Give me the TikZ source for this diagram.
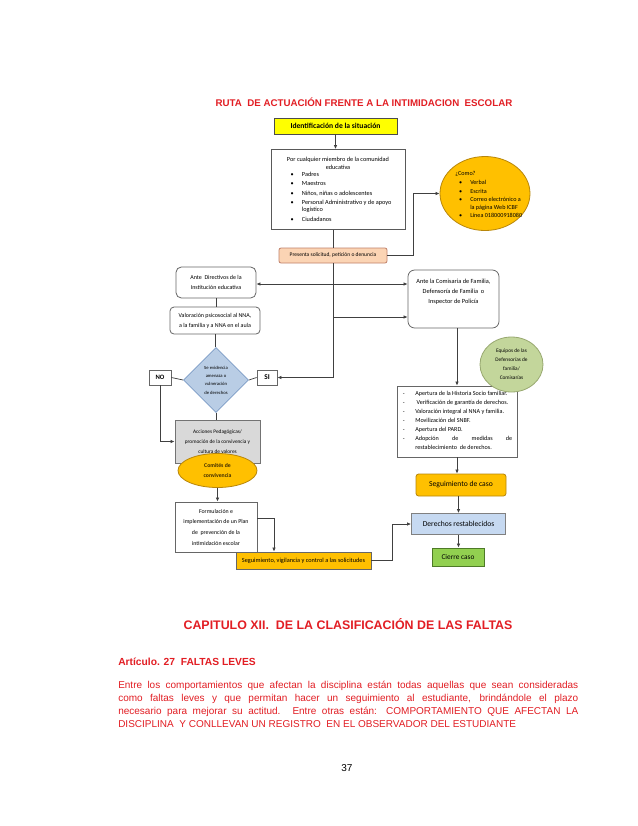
\documentclass[tikz,border=0pt]{standalone}
\usepackage{fontspec}
\setmainfont{Liberation Sans}
\newfontfamily\carl{Carlito}
\usetikzlibrary{shapes.geometric,arrows.meta}
\newlength\pxu
\setlength\pxu{0.75pt}
\definecolor{redtxt}{RGB}{226,30,36}
\definecolor{yel}{HTML}{FFFF00}
\definecolor{gold}{HTML}{FFC000}
\definecolor{goldline}{HTML}{B8860B}
\definecolor{peach}{HTML}{FBD4B4}
\definecolor{peachline}{HTML}{C0806A}
\definecolor{ltblue}{HTML}{C6D9F1}
\definecolor{diablue}{HTML}{B9CDE5}
\definecolor{blueline}{HTML}{7B9BC6}
\definecolor{ltgray}{HTML}{D9D9D9}
\definecolor{olive}{HTML}{C3D69B}
\definecolor{oliveline}{HTML}{98A870}
\definecolor{grn}{HTML}{92D050}
\definecolor{grnline}{HTML}{4E7A27}
\definecolor{brn}{HTML}{3F2C00}
\begin{document}
\begin{tikzpicture}[x=0.75pt,y=-0.75pt,
  ln/.style={draw=black!75, line width=0.55pt},
  arr/.style={ln, -{Latex[length=3pt,width=2.6pt]}},
  dbl/.style={ln, {Latex[length=3pt,width=2.6pt]}-{Latex[length=3pt,width=2.6pt]}},
  bx/.style={draw=black!60, line width=0.6pt, inner sep=0pt, align=center, fill=white,
     font=\carl\fontsize{4.5}{8}\selectfont},
  txt/.style={inner sep=0pt, anchor=base west, font=\carl\fontsize{4.7}{6}\selectfont},
  stxt/.style={inner sep=0pt, anchor=base west, font=\carl\fontsize{4.6}{5}\selectfont},
  ptxt/.style={inner sep=0pt, anchor=base west, text=redtxt, font=\fontsize{7.5}{9.75}\selectfont}
]
\path[use as bounding box, fill=white] (0,0) rectangle (638,826);

% title
\node[inner sep=0pt, text=redtxt, font=\bfseries\fontsize{7.3}{9}\selectfont] (title) at (364,102)
  {RUTA\ \ DE ACTUACIÓN FRENTE A LA INTIMIDACION\ \ ESCOLAR};

% top boxes
\node[bx, fill=yel, draw=black!70, minimum width=123\pxu, minimum height=16\pxu,
  font=\carl\bfseries\fontsize{5.7}{7}\selectfont] (ident) at (335.5,126) {Identificación de la situación};

\node[bx, draw=black!65, minimum width=134\pxu, minimum height=80\pxu] (miembro) at (338,189.5) {};
\node[inner sep=0pt, align=center, font=\carl\fontsize{4.7}{5.8}\selectfont] (mhead) at (338,163)
  {Por cualquier miembro de la comunidad\\educativa};
\node[txt] (mi1) at (290.3,176.4) {\makebox[11.4\pxu][l]{•}Padres};
\node[txt] (mi2) at (290.3,185.4) {\makebox[11.4\pxu][l]{•}Maestros};
\node[txt] (mi3) at (290.3,195.0) {\makebox[11.4\pxu][l]{•}Niños, niñas o adolescentes};
\node[txt] (mi4) at (290.3,204.4) {\makebox[11.4\pxu][l]{•}Personal Administrativo y de apoyo};
\node[txt] (mi4b) at (290.3,211.2) {\hspace*{11.4\pxu}logístico};
\node[txt] (mi5) at (290.3,221.0) {\makebox[11.4\pxu][l]{•}Ciudadanos};

% como ellipse
\node[ellipse, draw=goldline, fill=gold, line width=0.6pt, minimum width=90\pxu, minimum height=74\pxu, inner sep=0pt] (como) at (485,193.5) {};
\node[stxt] (c0) at (455,175.6) {¿Como?};
\node[stxt] (c1) at (458.8,184.9) {\makebox[11.2\pxu][l]{•}Verbal};
\node[stxt] (c2) at (458.8,193.3) {\makebox[11.2\pxu][l]{•}Escrita};
\node[stxt] (c3) at (458.8,201.6) {\makebox[11.2\pxu][l]{•}Correo electrónico a};
\node[stxt] (c3b) at (458.8,209.1) {\hspace*{11.2\pxu}la página Web ICBF};
\node[stxt] (c4) at (458.8,217.6) {\makebox[11.2\pxu][l]{•}Línea 018000918080};

% presenta
\node[bx, fill=peach, draw=peachline, rounded corners=1.5pt, minimum width=108\pxu, minimum height=15\pxu,
  font=\carl\fontsize{4.15}{5}\selectfont] (pres) at (333,255.5) {Presenta solicitud, petición o denuncia};

% left column
\node[bx, rounded corners=4pt, minimum width=80\pxu, minimum height=31\pxu] (direc) at (216,282.5)
  {Ante\ \ Directivos de la\\Institución educativa};
\node[bx, rounded corners=3pt, minimum width=90\pxu, minimum height=27\pxu, font=\carl\fontsize{4.5}{7.5}\selectfont] (valor) at (215,320.5)
  {Valoración psicosocial al NNA,\\a la familia y a NNA en el aula};
\node[diamond, draw=blueline, fill=diablue, line width=0.6pt, minimum width=65\pxu, minimum height=65\pxu, inner sep=0pt,
  align=center, font=\carl\fontsize{3.5}{6.2}\selectfont] (dia) at (216,380)
  {Se evidencia\\amenaza o\\vulneración\\de derechos};
\node[bx, minimum width=22\pxu, minimum height=15\pxu, font=\carl\bfseries\fontsize{5}{6}\selectfont] (no) at (160,377.5) {NO};
\node[bx, minimum width=20\pxu, minimum height=15\pxu, font=\carl\bfseries\fontsize{5.5}{6}\selectfont] (si) at (267,377.5) {SI};
\node[bx, fill=ltgray, draw=black!55, minimum width=85\pxu, minimum height=43\pxu, font=\carl\fontsize{4}{7.6}\selectfont] (acc) at (217.5,441.5)
  {Acciones Pedagógicas/\\promoción de la convivencia y\\cultura de valores};
\node[ellipse, draw=goldline, fill=gold, line width=0.6pt, minimum width=79\pxu, minimum height=34\pxu, inner sep=0pt,
  align=center, text=brn, font=\carl\bfseries\fontsize{4.3}{8.2}\selectfont] (comi) at (217.5,470.5) {Comités de\\convivencia};
\node[bx, minimum width=82\pxu, minimum height=50\pxu, font=\carl\fontsize{4.4}{8}\selectfont] (form) at (216,527)
  {Formulación e\\implementación de un Plan\\de\ \ prevención de la\\intimidación escolar};
\node[bx, fill=gold, draw=black!60, minimum width=135\pxu, minimum height=17\pxu, font=\carl\fontsize{4.7}{5}\selectfont] (segv) at (303.5,560.5)
  {Seguimiento, vigilancia y control a las solicitudes};

% right column
\node[bx, rounded corners=5pt, minimum width=91\pxu, minimum height=58\pxu] (comis) at (453.5,299) {};
\node[inner sep=0pt, align=center, font=\carl\fontsize{4.75}{7.7}\selectfont] (comt) at (453.5,292)
  {Ante la Comisaria de Familia,\\Defensoría de Familia\ \ o\\Inspector de Policía};

\node[bx, draw=black!60, minimum width=120\pxu, minimum height=71\pxu] (apert) at (457,421.5) {};
\node[stxt] (a1) at (402.6,395.9) {\makebox[12.4\pxu][l]{-}Apertura de la Historia Socio familiar.};
\node[stxt] (a2) at (402.6,404.9) {\makebox[12.4\pxu][l]{-}\ Verificación de garantía de derechos.};
\node[stxt] (a3) at (402.6,413.9) {\makebox[12.4\pxu][l]{-}Valoración integral al NNA y familia.};
\node[stxt] (a4) at (402.6,422.6) {\makebox[12.4\pxu][l]{-}Movilización del SNBF.};
\node[stxt] (a5) at (402.6,431.6) {\makebox[12.4\pxu][l]{-}Apertura del PARD.};
\node[stxt] (a6) at (402.6,440.6) {\makebox[12.4\pxu][l]{-}\makebox[97\pxu][s]{Adopción\hfill de\hfill medidas\hfill de}};
\node[stxt] (a6b) at (402.6,449.9) {\hspace*{12.4\pxu}restablecimiento\ \ de derechos.};

\node[ellipse, draw=oliveline, fill=olive, line width=0.6pt, minimum width=63\pxu, minimum height=55\pxu, inner sep=0pt,
  align=center, font=\carl\fontsize{4}{6.8}\selectfont] (equi) at (511.5,364.5)
  {Equipos de las\\Defensorías de\\familia/\\Comisarías};

\node[bx, fill=gold, draw=goldline, rounded corners=2pt, minimum width=90\pxu, minimum height=22\pxu, font=\carl\fontsize{5.7}{6}\selectfont] (segc) at (461,485) {Seguimiento de caso};
\node[bx, fill=ltblue, draw=black!50, minimum width=94\pxu, minimum height=21\pxu, font=\carl\fontsize{5.7}{6}\selectfont] (der) at (458.5,524) {Derechos restablecidos};
\node[bx, fill=grn, draw=grnline, minimum width=52\pxu, minimum height=18\pxu, font=\carl\fontsize{5.5}{6}\selectfont] (cie) at (458,557) {Cierre caso};

% connectors
\draw[arr] (ident.south) -- (ident.south |- miembro.north);
\draw[ln] (pres.north |- miembro.south) -- (pres.north);
\coordinate (b0) at (300,284);
\coordinate (b1) at (333,317);
\draw[dbl] (b0 -| direc.east) -- (b0 -| comis.west);
\draw[arr] (pres.south) -- (pres.south |- si.east) -- (si.east);
\draw[arr] (b1) -- (b1 -| comis.west);
\draw[arr] (pres.east) -- ++(26,0) |- (como.west);
\draw[ln] (direc.south) -- (direc.south |- valor.north);
\draw[ln] (valor.south) -- (valor.south |- dia.north);
\draw[ln] (dia.west) -- (no.east);
\draw[ln] (dia.east) -- (si.west);
\draw[arr] (no.south) |- (acc.west);
\draw[ln] (dia.south) -- (dia.south |- acc.north);
\draw[arr] (comi.south) -- (comi.south |- form.north);
\coordinate (f1) at (274,518);
\draw[arr] (f1 -| form.east) -- (f1) -- (f1 |- segv.north);
\draw[arr] (segv.east) -- ++(21,0) |- (der.west);
\draw[arr] (apert.north |- comis.south) -- (apert.north);
\draw[arr] (apert.south) -- (apert.south |- segc.north);
\draw[arr] (der.north |- segc.south) -- (der.north);
\draw[arr] (der.south) -- (der.south |- cie.north);

% bottom text
\node[inner sep=0pt, text=redtxt, font=\bfseries\fontsize{9.3}{11}\selectfont] (cap) at (348,624)
  {CAPITULO XII.\ \ DE LA CLASIFICACIÓN DE LAS FALTAS};
\node[inner sep=0pt, anchor=west, text=redtxt, font=\bfseries\fontsize{7.7}{9}\selectfont] (art) at (118,662)
  {Artículo. 27\ \ FALTAS LEVES};
\node[ptxt] (p1) at (118,688) {\makebox[460\pxu][s]{Entre los comportamientos que afectan la disciplina están todas aquellas que sean consideradas}};
\node[ptxt] (p2) at (118,701) {\makebox[460\pxu][s]{como faltas leves y que permitan hacer un seguimiento al estudiante, brindándole el plazo}};
\node[ptxt] (p3) at (118,714) {\makebox[460\pxu][s]{necesario para mejorar su actitud. Entre otras están: COMPORTAMIENTO QUE AFECTAN LA}};
\node[ptxt] (p4) at (118,727) {DISCIPLINA\ \ Y CONLLEVAN UN REGISTRO\ \ EN EL OBSERVADOR DEL ESTUDIANTE};
\node[inner sep=0pt, font=\fontsize{7.5}{9}\selectfont] (pg) at (347,768) {37};
\end{tikzpicture}
\end{document}
